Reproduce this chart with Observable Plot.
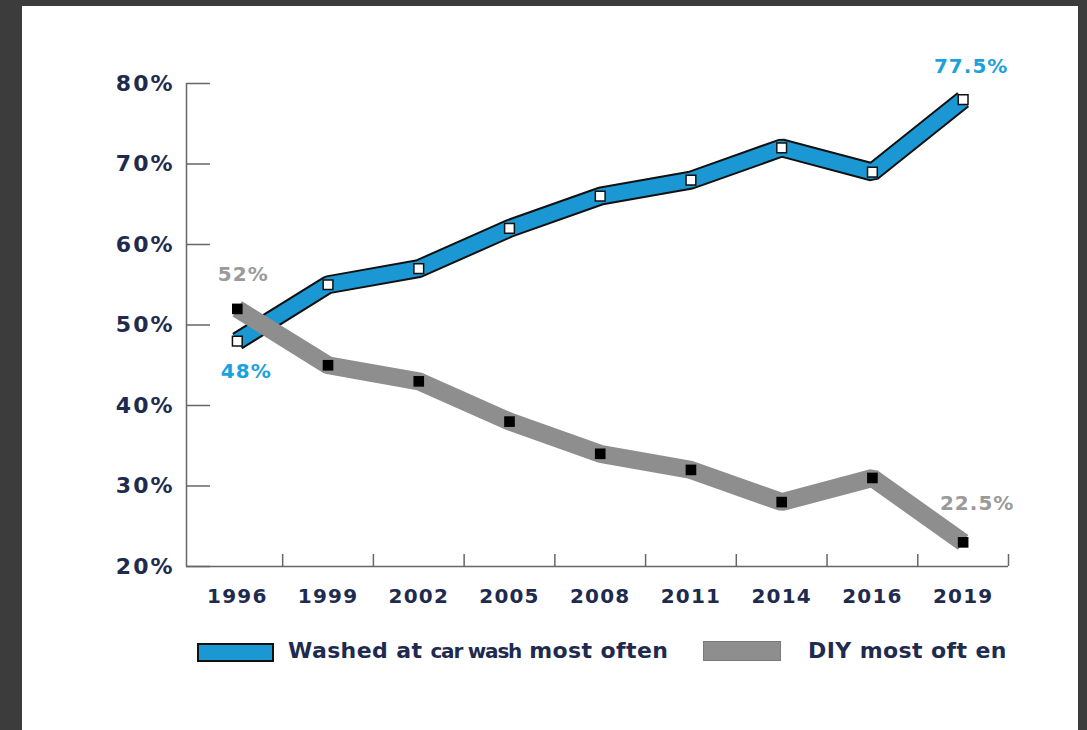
<!DOCTYPE html>
<html>
<head>
<meta charset="utf-8">
<script src="https://cdn.jsdelivr.net/npm/d3@7"></script>
<script src="https://cdn.jsdelivr.net/npm/@observablehq/plot@0.6"></script>
<style>
  html, body { margin: 0; padding: 0; background: #3c3c3c; width: 1087px; height: 730px; overflow: hidden; }
  #card { position: absolute; left: 22px; top: 6px; width: 1056px; height: 724px; background: #fff; }
  #chart { position: absolute; left: 0; top: 0; }
  #chart svg { letter-spacing: 1px; }
  #chart g[aria-label="y-axis tick label"] { letter-spacing: 2px; }
  #chart g[aria-label="x-axis tick label"] { letter-spacing: 1.2px; }
  .sw { position: absolute; box-sizing: border-box; }
  .lt { position: absolute; font-family: "DejaVu Sans", sans-serif; font-weight: bold; font-size: 22px; color: #1e2b4f; white-space: nowrap; line-height: 1; letter-spacing: 0.4px; }
  .cw { letter-spacing: -1.2px; font-size: 20px; }
</style>
</head>
<body>
<div id="card">
  <div id="chart"></div>
  <div class="sw" style="left:175px;top:637px;width:77px;height:19px;background:#1b97d3;border:2px solid #111;"></div>
  <div class="lt" style="left:266px;top:634px;">Washed at <span class="cw">car wash</span> most often</div>
  <div class="sw" style="left:681px;top:635px;width:78px;height:20px;background:#8e8e8e;border:1px solid #7a7a7a;"></div>
  <div class="lt" style="left:786px;top:634px;">DIY most oft en</div>
</div>
<script>
const years = ["1996", "1999", "2002", "2005", "2008", "2011", "2014", "2016", "2019"];
const carWash = [48, 55, 57, 62, 66, 68, 72, 69, 78];
const diy = [52, 45, 43, 38, 34, 32, 28, 31, 23];
const yTicks = [20, 30, 40, 50, 60, 70, 80];
const carFirstLabel = "48%";
const carLastLabel = "77.5%";
const diyFirstLabel = "52%";
const diyLastLabel = "22.5%";

const last = years.length - 1;
const carData = years.map((y, i) => ({i, v: carWash[i]}));
const diyData = years.map((y, i) => ({i, v: diy[i]}));
const xMin = -0.56, xMax = 8.5;
const boundaries = d3.range(0.5, years.length, 1);
const idx = d3.range(years.length);

const navy = "#1e2b4f";
const blue = "#1b97d3";
const gray = "#8e8e8e";
const axisColor = "#666";
const font = "DejaVu Sans, sans-serif";

const ann = (d, label, color, dx, dy) => Plot.text([d], {x: "i", y: "v", text: () => label, dx, dy, fill: color, fontSize: 20, fontWeight: "bold"});

const plot = Plot.plot({
  width: 1056,
  height: 620,
  marginLeft: 164,
  marginRight: 70,
  marginTop: 77,
  marginBottom: 60,
  style: {background: "transparent", fontFamily: font, overflow: "visible"},
  x: {type: "linear", domain: [xMin, xMax], axis: null},
  y: {domain: [20, 80], axis: null},
  marks: [
    // y axis
    Plot.ruleX([xMin], {y1: 20, y2: 80, stroke: axisColor, strokeWidth: 1.5}),
    Plot.axisY({ticks: yTicks, label: null, tickSize: -24, tickPadding: 36, stroke: axisColor, strokeWidth: 1.5, tickFormat: d => d + "%", fontSize: 22, fontWeight: "bold", fill: navy, strokeOpacity: 1}),
    // x axis
    Plot.ruleY([20], {x1: xMin, x2: xMax, stroke: axisColor, strokeWidth: 1.5}),
    Plot.axisX({ticks: boundaries, label: null, tickSize: -12, text: null, stroke: axisColor, strokeWidth: 1.5, strokeOpacity: 1}),
    Plot.axisX({ticks: idx, label: null, tickSize: 0, tickPadding: 22, tickFormat: i => years[i], fontSize: 20, fontWeight: "bold", fill: navy}),
    // car wash ribbon
    Plot.line(carData, {x: "i", y: "v", stroke: "#111", strokeWidth: 19, strokeLinejoin: "miter", strokeLinecap: "butt"}),
    Plot.line(carData, {x: "i", y: "v", stroke: blue, strokeWidth: 15, strokeLinejoin: "miter", strokeLinecap: "butt"}),
    Plot.dot(carData, {x: "i", y: "v", symbol: "square", r: 5.5, fill: "#fff", stroke: "#111", strokeWidth: 1.5}),
    // DIY ribbon
    Plot.line(diyData, {x: "i", y: "v", stroke: gray, strokeWidth: 18, strokeLinejoin: "miter", strokeLinecap: "butt"}),
    Plot.dot(diyData, {x: "i", y: "v", symbol: "square", r: 6, fill: "#000"}),
    // annotations
    ann(carData[0], carFirstLabel, "#1ba1dc", 9, 30),
    ann(carData[last], carLastLabel, "#1ba1dc", 8, -33),
    ann(diyData[0], diyFirstLabel, "#9a9a9a", 6, -34),
    ann(diyData[last], diyLastLabel, "#9a9a9a", 14, -39)
  ]
});
document.getElementById("chart").appendChild(plot);
</script>
</body>
</html>
